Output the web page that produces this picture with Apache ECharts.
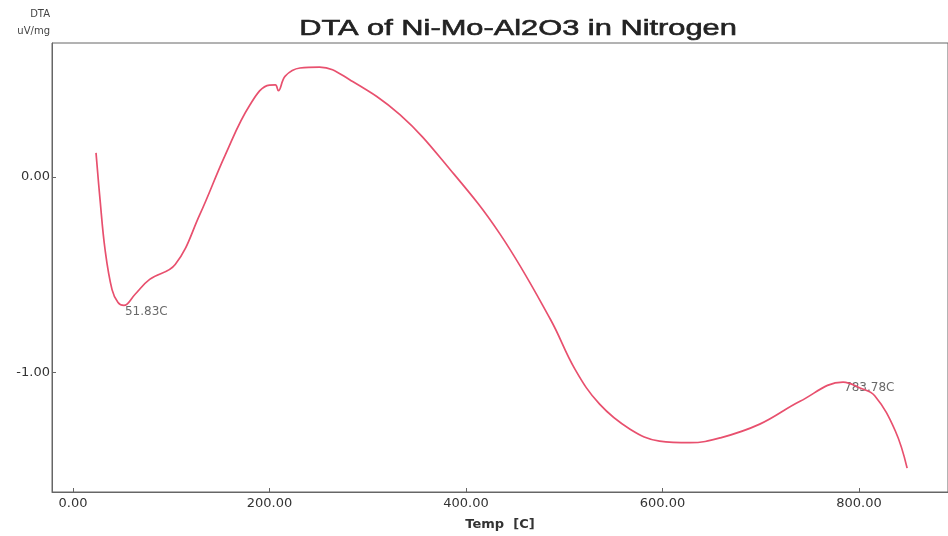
<!DOCTYPE html>
<html>
<head>
<meta charset="utf-8">
<script src="https://cdn.jsdelivr.net/npm/echarts@6/dist/echarts.min.js"></script>
<style>
  html, body { margin: 0; padding: 0; background: #fff; }
  #chart { width: 948px; height: 536px; }
</style>
</head>
<body>
<div id="chart"></div>
<script>
// temperature (C)
var temps = [23.4, 27.5, 32.6, 39.7, 45.8, 51.8, 63, 78, 104, 129, 155, 180, 200, 206, 209, 216, 231, 251, 282, 333, 384, 435, 486, 511, 536, 567, 597, 628, 659, 699, 740, 783.8, 801, 816, 837, 849];
// DTA signal (uV/mg)
var dta = [0.122, -0.117, -0.372, -0.577, -0.643, -0.658, -0.602, -0.525, -0.449, -0.194, 0.112, 0.367, 0.469, 0.47, 0.44, 0.515, 0.556, 0.561, 0.495, 0.316, 0.036, -0.296, -0.73, -0.985, -1.163, -1.291, -1.352, -1.36, -1.335, -1.265, -1.148, -1.05, -1.08, -1.12, -1.30, -1.49];
var xTicks = [0, 200, 400, 600, 800];
var yTicks = [-1, 0];
var peaks = [[51.83, -0.658], [783.78, -1.05]];

var chart = echarts.init(document.getElementById('chart'));
var line = temps.map(function(t, i) { return [t, dta[i]]; });
var labelFont = 'DejaVu Sans';

chart.setOption({
  animation: false,
  // title drawn as graphic text so it can be widened like the source image
  graphic: [{
    type: 'text',
    x: 518,
    y: 29,
    scaleX: 1.4,
    style: {
      text: 'DTA of Ni-Mo-Al2O3 in Nitrogen',
      font: '22px "Liberation Sans"',
      fill: '#222',
      stroke: '#222',
      lineWidth: 0.6,
      align: 'center',
      verticalAlign: 'middle'
    }
  }],
  grid: {
    left: 52, right: -2, top: 43, bottom: 43,
    show: true, borderColor: '#666', borderWidth: 1
  },
  xAxis: {
    type: 'value',
    min: -21.4,
    max: 890.6,
    name: 'Temp  [C]',
    nameLocation: 'middle',
    nameGap: 26,
    nameTextStyle: { fontFamily: labelFont, fontSize: 13, fontWeight: 'bold', color: '#333' },
    axisLine: { show: true, onZero: false, lineStyle: { color: '#666' } },
    splitLine: { show: false },
    axisTick: { show: true, inside: true, length: 4, customValues: xTicks, lineStyle: { color: '#666' } },
    axisLabel: {
      customValues: xTicks,
      margin: 5,
      fontFamily: labelFont, fontSize: 13, color: '#333',
      formatter: function(v) { return v.toFixed(2); }
    }
  },
  yAxis: {
    type: 'value',
    min: -1.612,
    max: 0.684,
    name: 'DTA\nuV/mg',
    nameLocation: 'end',
    nameGap: 3,
    nameTextStyle: { fontFamily: labelFont, fontSize: 10, color: '#444', align: 'right', lineHeight: 17, padding: [0, 2, 0, 0] },
    axisLine: { show: true, onZero: false, lineStyle: { color: '#666' } },
    splitLine: { show: false },
    axisTick: { show: true, inside: true, length: 4, customValues: yTicks, lineStyle: { color: '#666' } },
    axisLabel: {
      customValues: yTicks,
      margin: 2,
      fontFamily: labelFont, fontSize: 13, color: '#333',
      formatter: function(v) { return v.toFixed(2); }
    }
  },
  series: [
    {
      type: 'line',
      data: line,
      smooth: 0.4,
      showSymbol: false,
      lineStyle: { color: '#e8506e', width: 1.7 }
    },
    {
      type: 'scatter',
      data: peaks,
      symbolSize: 0,
      label: {
        show: true,
        position: 'right',
        offset: [-4, 6],
        fontFamily: labelFont, fontSize: 12, color: '#444',
        formatter: function(p) { return p.value[0].toFixed(2) + 'C'; }
      }
    }
  ]
});
</script>
</body>
</html>
